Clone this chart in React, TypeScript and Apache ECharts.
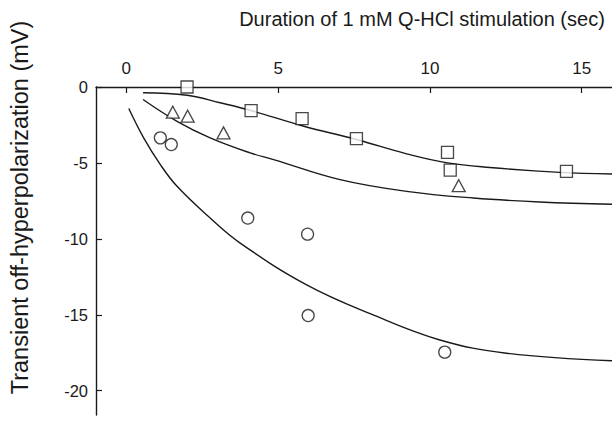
import React, { useEffect, useRef } from "react";
import * as echarts from "echarts";

const xTicks = [0, 5, 10, 15];
const yTicks = [0, -5, -10, -15, -20];

const squares: [number, number][] = [
  [2.0, 0], [4.11, -1.55], [5.79, -2.08], [7.58, -3.4], [10.58, -4.3], [10.67, -5.47], [14.5, -5.55],
];
const triangles: [number, number][] = [
  [1.53, -1.66], [2.02, -1.92], [3.2, -3.02], [10.95, -6.5],
];
const circles: [number, number][] = [
  [1.12, -3.35], [1.48, -3.79], [4.0, -8.63], [5.97, -9.69], [5.99, -15.05], [10.49, -17.46],
];

const curveSquares: [number, number][] = [
  [0.55, -0.38], [2.0, -0.54], [3.09, -1.04], [4.11, -1.55], [5.79, -2.55], [7.58, -3.46],
  [9.23, -4.4], [10.58, -5.0], [11.97, -5.3], [14.28, -5.62], [16.0, -5.73],
];
const curveTriangles: [number, number][] = [
  [0.55, -0.82], [1.67, -2.26], [2.76, -3.35], [4.08, -4.34], [4.85, -4.78], [7.04, -6.1],
  [9.23, -6.87], [11.43, -7.31], [13.62, -7.57], [16.0, -7.72],
];
const curveCircles: [number, number][] = [
  [0.08, -1.42], [0.57, -3.35], [1.12, -5.11], [1.67, -6.54], [2.76, -8.63], [3.75, -10.28],
  [5.94, -13.03], [8.13, -15.01], [10.33, -16.66], [12.52, -17.53], [16.0, -18.03],
];

const FONT = "'Liberation Sans', Arial, Helvetica, sans-serif";
const INK = "#1a1a1a";

export default function App() {
  const ref = useRef<HTMLDivElement>(null);
  useEffect(() => {
    if (!ref.current) return;
    const chart = echarts.init(ref.current, null, { renderer: "svg" });
    const lineSeries = (data: [number, number][]) => ({
      type: "line",
      data,
      smooth: 0.4,
      showSymbol: false,
      symbol: "none",
      silent: true,
      z: 1,
      lineStyle: { color: INK, width: 1.4 },
    });
    const scatterSeries = (data: [number, number][], symbol: string, size: number | number[]) => ({
      type: "scatter",
      data,
      symbol,
      symbolSize: size,
      z: 3,
      itemStyle: { color: "#fff", borderColor: INK, borderWidth: 1.3 },
    });
    chart.setOption({
      animation: false,
      backgroundColor: "#fff",
      textStyle: { fontFamily: FONT },
      grid: { left: 96, top: 87, right: -1, bottom: 10, containLabel: false },
      xAxis: {
        type: "value",
        position: "top",
        min: -1,
        max: 16,
        axisLine: { show: true, onZero: false, lineStyle: { color: INK, width: 1.4 } },
        axisTick: { show: true, inside: true, length: 6, customValues: xTicks, lineStyle: { color: INK, width: 1.2 } },
        axisLabel: { show: true, customValues: xTicks, margin: 10, fontSize: 17, color: INK, fontFamily: FONT },
        splitLine: { show: false },
      },
      yAxis: {
        type: "value",
        min: -21.6,
        max: 0,
        axisLine: { show: true, onZero: false, lineStyle: { color: INK, width: 1.4 } },
        axisTick: { show: true, inside: true, length: 6, customValues: yTicks, lineStyle: { color: INK, width: 1.2 } },
        axisLabel: { show: true, customValues: yTicks, margin: 8, fontSize: 16.5, color: INK, fontFamily: FONT },
        splitLine: { show: false },
      },
      graphic: [
        {
          type: "text",
          x: 422,
          y: 19,
          style: {
            text: "Duration of 1 mM Q-HCl stimulation (sec)",
            font: `20px ${FONT}`,
            fill: INK,
            align: "center",
            verticalAlign: "middle",
          },
        },
        {
          type: "text",
          x: 19.5,
          y: 207.5,
          rotation: Math.PI / 2,
          style: {
            text: "Transient off-hyperpolarization (mV)",
            font: `23.5px ${FONT}`,
            fill: INK,
            align: "center",
            verticalAlign: "middle",
          },
        },
      ],
      series: [
        lineSeries(curveSquares),
        lineSeries(curveTriangles),
        lineSeries(curveCircles),
        scatterSeries(squares, "rect", 12),
        scatterSeries(triangles, "triangle", [13, 12]),
        scatterSeries(circles, "circle", 12),
      ],
    });
    return () => chart.dispose();
  }, []);
  return (
    <div
      ref={ref}
      style={{ position: "fixed", left: 0, top: 0, width: 612, height: 425, background: "#fff" }}
    />
  );
}
